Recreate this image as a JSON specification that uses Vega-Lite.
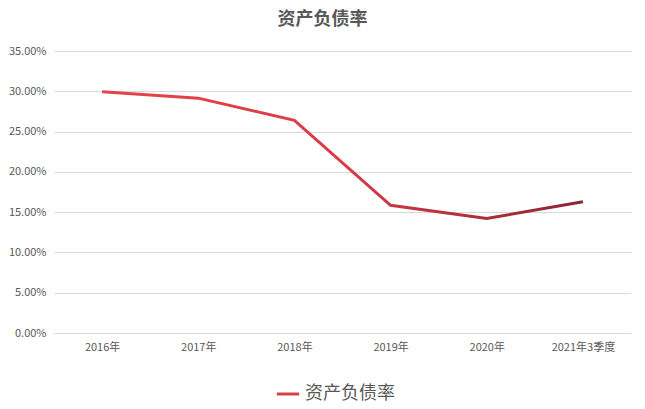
{
  "$schema": "https://vega.github.io/schema/vega-lite/v6.json",
  "autosize": {"type": "none"},
  "padding": {"left": 54, "top": 51, "right": 14, "bottom": 76},
  "width": 577,
  "height": 282,
  "background": "white",
  "config": {
    "view": {"stroke": null},
    "font": "Noto Sans CJK SC",
    "axis": {"labelColor": "#595959", "labelFontSize": 11, "labelFont": "Noto Sans CJK SC"}
  },
  "title": {
    "text": "资产负债率",
    "fontSize": 18,
    "fontWeight": "bold",
    "color": "#595959",
    "offset": 16,
    "dx": -20
  },
  "data": {
    "values": [
      {"period": "2016年", "ratio": 0.2995},
      {"period": "2017年", "ratio": 0.2915},
      {"period": "2018年", "ratio": 0.2640},
      {"period": "2019年", "ratio": 0.1585},
      {"period": "2020年", "ratio": 0.1420},
      {"period": "2021年3季度", "ratio": 0.1630}
    ]
  },
  "encoding": {
    "x": {
      "field": "period",
      "type": "ordinal",
      "sort": null,
      "scale": {"paddingOuter": 0.5, "paddingInner": 0},
      "axis": {"title": null, "labelAngle": 0, "ticks": false, "domain": true, "domainColor": "#d9d9d9", "labelPadding": 8, "grid": false}
    },
    "y": {
      "field": "ratio",
      "type": "quantitative",
      "scale": {"domain": [0, 0.35]},
      "axis": {"title": null, "format": ".2%", "values": [0, 0.05, 0.1, 0.15, 0.2, 0.25, 0.3, 0.35], "domain": false, "ticks": false, "gridColor": "#d9d9d9", "labelPadding": 8}
    }
  },
  "layer": [
    {
      "mark": {
        "type": "line",
        "strokeWidth": 3,
        "stroke": {
          "gradient": "linear",
          "x1": 0, "y1": 0, "x2": 1, "y2": 0,
          "stops": [
            {"offset": 0, "color": "#E4434B"},
            {"offset": 0.5, "color": "#D83C45"},
            {"offset": 1, "color": "#8C2531"}
          ]
        }
      }
    },
    {
      "mark": {"type": "line", "strokeOpacity": 0},
      "encoding": {
        "stroke": {
          "datum": "资产负债率",
          "type": "nominal",
          "scale": {"range": ["#D9424A"]},
          "legend": {
            "title": null,
            "orient": "none",
            "legendX": 221,
            "legendY": 330,
            "symbolType": "stroke",
            "symbolStrokeWidth": 3,
            "symbolSize": 500,
            "symbolOpacity": 1,
            "labelFontSize": 18,
            "labelColor": "#595959",
            "labelFont": "Noto Sans CJK SC"
          }
        }
      }
    }
  ]
}
